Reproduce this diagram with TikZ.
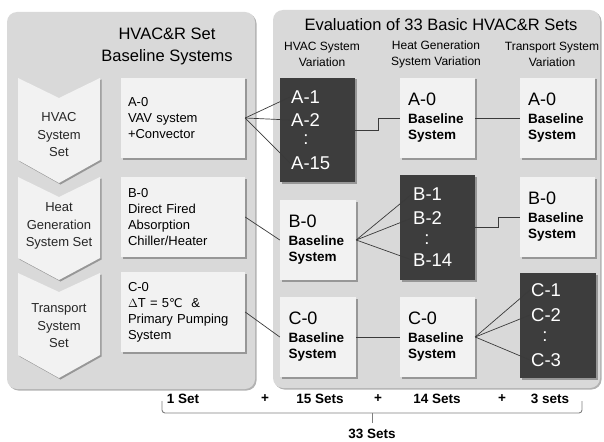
\documentclass[tikz,border=0pt]{standalone}
\usepackage{fontspec}
\setmainfont{Liberation Sans}
\newfontfamily\dejavu{DejaVu Sans}
\usetikzlibrary{shadows}
\definecolor{panelgray}{HTML}{D9D9D9}
\definecolor{boxw}{HTML}{F2F2F2}
\definecolor{boxd}{HTML}{3D3D3D}
\definecolor{linec}{HTML}{3A3A3A}
\definecolor{bracec}{HTML}{7F7F7F}
\tikzset{
  shad/.style={drop shadow={shadow xshift=1.5pt, shadow yshift=-1.5pt, fill=black, opacity=0.3}},
  panel/.style={fill=panelgray, rounded corners=10pt, shad},
  chevron/.style={fill=boxw, shad},
  leftbox/.style={rectangle, fill=boxw, shad, minimum width=124pt, minimum height=80pt,
    text width=110pt, inner xsep=7pt, inner ysep=0pt, align=left, font=\fontsize{13}{16}\selectfont},
  rwbox/.style={rectangle, fill=boxw, shad, minimum width=75pt, minimum height=80pt,
    text width=59pt, inner xsep=8pt, inner ysep=0pt, align=left, font=\fontsize{13.5}{16.5}\selectfont\bfseries},
  dbox/.style={rectangle, fill=boxd, shad, inner sep=0pt},
  dlabel/.style={text=white, font=\fontsize{18.5}{20}\selectfont, inner sep=1pt, anchor=west},
  dcolon/.style={text=white, font=\fontsize{18.5}{20}\selectfont, inner sep=0pt},
  conn/.style={draw=linec, line width=0.7pt},
  title/.style={align=center, font=\fontsize{16.5}{22}\selectfont},
  colhead/.style={align=center, font=\fontsize{12}{16}\selectfont},
  chevlabel/.style={align=center, font=\fontsize{13}{17.5}\selectfont, text=black!85},
  sumlabel/.style={font=\fontsize{13.5}{16}\selectfont\bfseries, inner sep=0pt},
  bracestyle/.style={draw=bracec, line width=0.9pt, rounded corners=3pt},
}
\begin{document}
\begin{tikzpicture}[x=1pt,y=-1pt]
\useasboundingbox (0,0) rectangle (604,441);
% panels
\fill[panel] (7,12) rectangle (255,389);
\fill[panel] (273,10) rectangle (600,388);
% titles
\node[title] (lt) at (167,46) {HVAC\&R Set\\Baseline Systems};
\node[title, font=\fontsize{16.5}{20}\selectfont] (rt) at (441,25) {Evaluation of 33 Basic HVAC\&R Sets};
\node[colhead] (h1) at (322,54) {HVAC System\\Variation};
\node[colhead] (h2) at (436,54) {Heat Generation\\System Variation};
\node[colhead] (h3) at (552,54) {Transport System\\Variation};
% chevrons
\fill[chevron] (18,78) -- (59,98) -- (100,78) -- (100,160) -- (59,183) -- (18,160) -- cycle;
\fill[chevron] (18,177) -- (59,197) -- (100,177) -- (100,258) -- (59,280) -- (18,258) -- cycle;
\fill[chevron] (18,273) -- (59,292) -- (100,273) -- (100,355) -- (59,378) -- (18,355) -- cycle;
\node[chevlabel] (ch1) at (59,135) {HVAC\\System\\Set};
\node[chevlabel] (ch2) at (59,226) {Heat\\Generation\\System Set};
\node[chevlabel] (ch3) at (59,326) {Transport\\System\\Set};
% left boxes
\node[leftbox] (A0L) at (183,118) {A-0\\VAV system\\+Convector};
\node[leftbox] (B0L) at (183,217) {B-0\\Direct Fired\\Absorption\\Chiller/Heater};
\node[leftbox] (C0L) at (183,312) {C-0\\$\Delta$T = 5{\dejavu\fontsize{12}{16}\selectfont ℃} \ \&\\Primary Pumping\\System};
% right white boxes
\node[rwbox] (A0c2) at (437.5,118) {{\mdseries\fontsize{18}{18}\selectfont A-0}\\[1pt]Baseline\\System};
\node[rwbox] (A0c3) at (557.5,118) {{\mdseries\fontsize{18}{18}\selectfont A-0}\\[1pt]Baseline\\System};
\node[rwbox, minimum width=76pt] (B0c1) at (318,240) {{\mdseries\fontsize{18}{18}\selectfont B-0}\\[1pt]Baseline\\System};
\node[rwbox] (B0c3) at (557.5,217) {{\mdseries\fontsize{18}{18}\selectfont B-0}\\[1pt]Baseline\\System};
\node[rwbox, minimum width=76pt] (C0c1) at (318,337) {{\mdseries\fontsize{18}{18}\selectfont C-0}\\[1pt]Baseline\\System};
\node[rwbox] (C0c2) at (437.5,337) {{\mdseries\fontsize{18}{18}\selectfont C-0}\\[1pt]Baseline\\System};
% dark boxes
\node[dbox, minimum width=75pt, minimum height=104pt] (Ad) at (317.5,130) {};
\node[dbox, minimum width=75pt, minimum height=105pt] (Bd) at (437.5,227.5) {};
\node[dbox, minimum width=76pt, minimum height=105pt] (Cd) at (558,325.5) {};
\node[dlabel] (a1) at (290,97) {A-1};
\node[dlabel] (a2) at (290,120) {A-2};
\node[dcolon] (ac) at (306,140) {:};
\node[dlabel] (a15) at (290,163) {A-15};
\node[dlabel] (b1) at (412,194) {B-1};
\node[dlabel] (b2) at (412,218) {B-2};
\node[dcolon] (bc) at (427,240) {:};
\node[dlabel] (b14) at (412,260) {B-14};
\node[dlabel] (c1) at (530,290) {C-1};
\node[dlabel] (c2) at (530,315) {C-2};
\node[dcolon] (cc) at (545,337) {:};
\node[dlabel] (c3) at (530,360) {C-3};
% connectors
\draw[conn] (A0L.east) -- (a1.west);
\draw[conn] (A0L.east) -- (a2.west);
\draw[conn] (A0L.east) -- (a15.west);
\draw[conn] (Ad.east) -- ++(23,0) |- (A0c2.west);
\draw[conn] (A0c2.east) -- (A0c3.west);
\draw[conn] (B0L.east) -- (B0c1.west);
\draw[conn] (B0c1.east) -- (b1.west);
\draw[conn] (B0c1.east) -- (b2.west);
\draw[conn] (B0c1.east) -- (b14.west);
\draw[conn] (Bd.east) -- ++(23,0) |- (B0c3.west);
\draw[conn] (C0L.east) -- (C0c1.west);
\draw[conn] (C0c1.east) -- (C0c2.west);
\draw[conn] (C0c2.east) -- (c1.west);
\draw[conn] (C0c2.east) -- (c2.west);
\draw[conn] (C0c2.east) -- (c3.west);
% sum line
\node[sumlabel] (s1) at (183,399) {1 Set};
\node[sumlabel] (p1) at (265,399) {+};
\node[sumlabel] (s15) at (320,399) {15 Sets};
\node[sumlabel] (p2) at (378,399) {+};
\node[sumlabel] (s14) at (437,399) {14 Sets};
\node[sumlabel] (p3) at (502,399) {+};
\node[sumlabel] (s3) at (550,399) {3 sets};
\draw[bracestyle] (162,401) -- (162,413) -- (582,413) -- (582,401);
\draw[bracestyle] (372,413) -- (372,423);
\node[sumlabel] (s33) at (372,434) {33 Sets};
\end{tikzpicture}
\end{document}
